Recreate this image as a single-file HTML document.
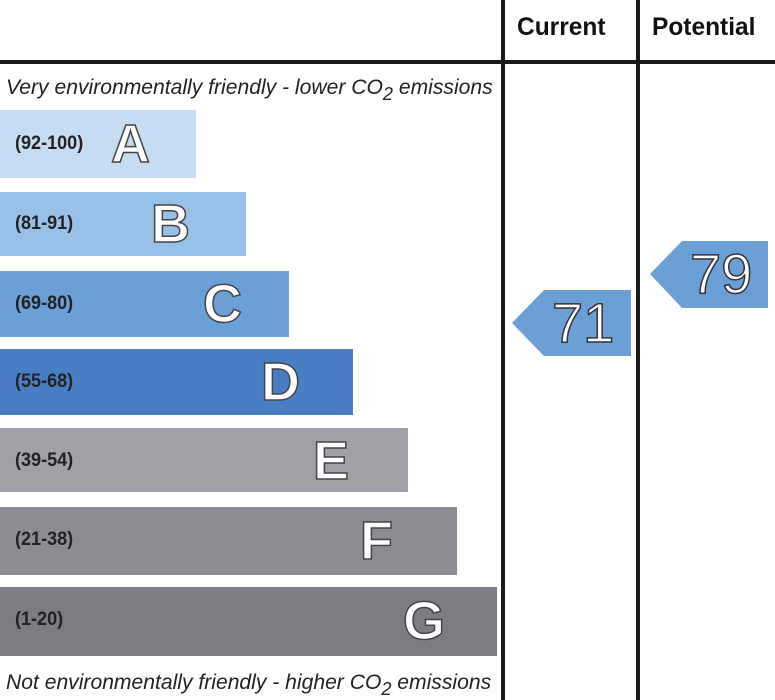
<!DOCTYPE html>
<html><head><style>
body{margin:0;width:775px;height:700px;background:#fff;position:relative;overflow:hidden;font-family:"Liberation Sans",sans-serif}
.l{position:absolute;background:#1a1a1a}
.bar{position:absolute;left:0}
.rng{position:absolute;left:15px;font-size:19px;font-weight:bold;color:#222;transform:scaleX(0.95);transform-origin:left}
.let{position:absolute;font-size:54px;font-weight:bold;color:#fff;-webkit-text-stroke:1.5px #444;line-height:1}
.hd{position:absolute;font-size:25px;font-weight:bold;color:#111;top:13px;transform:scaleX(0.98);transform-origin:left}
.it{position:absolute;left:6px;font-size:21px;font-style:italic;color:#222;transform:scaleX(1.005);transform-origin:left}
.num{position:absolute;font-size:56px;color:#fff;-webkit-text-stroke:1.5px #333;line-height:1}
</style></head><body>
<div class="l" style="left:0;top:60px;width:775px;height:4px"></div>
<div class="l" style="left:501px;top:0;width:4px;height:700px"></div>
<div class="l" style="left:636px;top:0;width:4px;height:700px"></div>
<div class="hd" style="left:517px">Current</div>
<div class="hd" style="left:652px">Potential</div>
<div class="it" style="top:76px">Very environmentally friendly - lower CO<sub style="font-size:18px;vertical-align:-6px">2</sub> emissions</div>
<div class="it" style="top:671px">Not environmentally friendly - higher CO<sub style="font-size:18px;vertical-align:-6px">2</sub> emissions</div>

<div class="bar" style="top:110px;width:196px;height:68px;background:#c5dcf2"></div>
<div class="rng" style="top:133px">(92-100)</div><div class="let" style="left:111px;top:117px">A</div>
<div class="bar" style="top:192px;width:246px;height:64px;background:#98c1e8"></div>
<div class="rng" style="top:213px">(81-91)</div><div class="let" style="left:151px;top:197px">B</div>
<div class="bar" style="top:271px;width:289px;height:66px;background:#6b9fd6"></div>
<div class="rng" style="top:293px">(69-80)</div><div class="let" style="left:203px;top:277px">C</div>
<div class="bar" style="top:349px;width:353px;height:66px;background:#4a7ec4"></div>
<div class="rng" style="top:371px">(55-68)</div><div class="let" style="left:261px;top:355px">D</div>
<div class="bar" style="top:428px;width:408px;height:64px;background:#a0a1a6"></div>
<div class="rng" style="top:450px">(39-54)</div><div class="let" style="left:313px;top:434px">E</div>
<div class="bar" style="top:507px;width:457px;height:68px;background:#8c8d92"></div>
<div class="rng" style="top:529px">(21-38)</div><div class="let" style="left:360px;top:514px">F</div>
<div class="bar" style="top:587px;width:497px;height:69px;background:#7c7d82"></div>
<div class="rng" style="top:609px">(1-20)</div><div class="let" style="left:403px;top:594px">G</div>

<svg style="position:absolute;left:0;top:0" width="775" height="700">
<polygon points="512,323 544,290 631,290 631,356 544,356" fill="#6b9fd6"/>
<polygon points="650,274 682,241 768,241 768,308 682,308" fill="#6b9fd6"/>
</svg>
<div class="num" style="left:552px;top:295px">71</div>
<div class="num" style="left:690px;top:246px">79</div>
</body></html>
